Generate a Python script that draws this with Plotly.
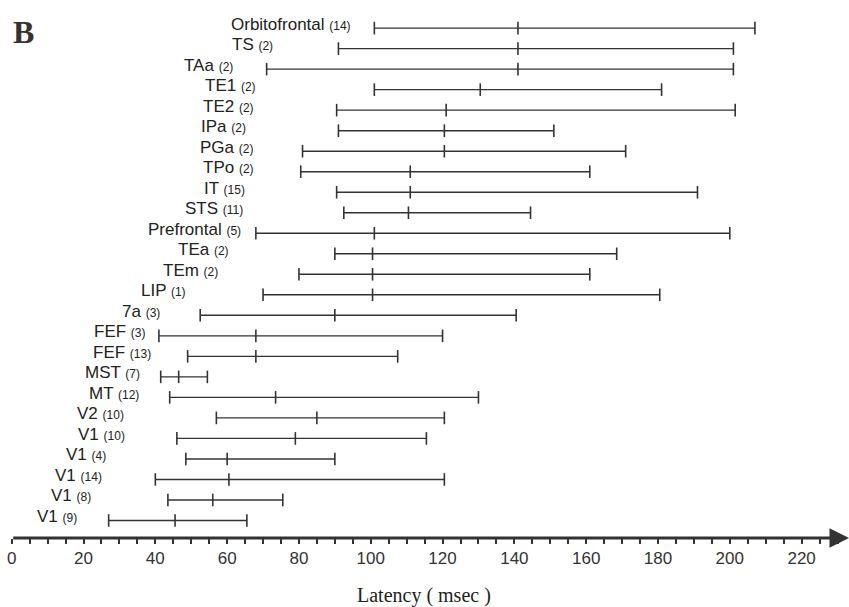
import plotly.graph_objects as go

# ---- data (top row first) ----
areas = ["Orbitofrontal", "TS", "TAa", "TE1", "TE2", "IPa", "PGa", "TPo", "IT", "STS",
         "Prefrontal", "TEa", "TEm", "LIP", "7a", "FEF", "FEF", "MST", "MT", "V2",
         "V1", "V1", "V1", "V1", "V1"]
n_studies = [14, 2, 2, 2, 2, 2, 2, 2, 15, 11, 5, 2, 2, 1, 3, 3, 13, 7, 12, 10, 10, 4, 14, 8, 9]
latency_min = [101, 91, 71, 101, 90.5, 91, 81, 80.5, 90.5, 92.5, 68, 90, 80, 70, 52.5,
               41, 49, 41.5, 44, 57, 46, 48.5, 40, 43.5, 27]
latency_mid = [141, 141, 141, 130.5, 121, 120.5, 120.5, 111, 111, 110.5, 101, 100.5, 100.5,
               100.5, 90, 68, 68, 46.5, 73.5, 85, 79, 60, 60.5, 56, 45.5]
latency_max = [207, 201, 201, 181, 201.5, 151, 171, 161, 191, 144.5, 200, 168.5, 161, 180.5,
               140.5, 120, 107.5, 54.5, 130, 120.5, 115.5, 90, 120.5, 75.5, 65.5]

# ---- layout: right edge of each row label (in msec units) ----
label_right = [95.1, 73.3, 62.2, 68.6, 68.0, 65.8, 67.8, 68.0, 65.5, 65.0, 64.4, 61.1, 58.0,
               49.1, 41.9, 38.0, 39.4, 36.3, 36.0, 31.8, 32.1, 26.8, 25.7, 22.6, 18.8]

cats = [f"{a} ({n})" for a, n in zip(areas, n_studies)]

xs, ys = [], []
for c, lo, mid, hi in zip(cats, latency_min, latency_mid, latency_max):
    xs += [lo, mid, hi, None]
    ys += [c, c, c, None]

LINE = "#333333"
fig = go.Figure()
fig.add_trace(go.Scatter(
    x=xs, y=ys, mode="lines+markers",
    line=dict(color=LINE, width=1.4),
    marker=dict(symbol="line-ns", size=9, line=dict(color=LINE, width=1.6)),
    hoverinfo="skip", showlegend=False, cliponaxis=False,
))

annotations = []
for c, a, n, xr in zip(cats, areas, n_studies, label_right):
    annotations.append(dict(
        x=xr, y=c, xref="x", yref="y", xanchor="right", yanchor="middle",
        text=f"{a} <span style='font-size:12px'>({n})</span>",
        showarrow=False, yshift=4,
        font=dict(family="Liberation Sans, Arial, sans-serif", size=17, color="#222222"),
    ))

# axis arrow
annotations.append(dict(
    x=233.2, y=0, xref="x", yref="y domain",
    ax=0, ay=0, axref="x", ayref="y domain",
    showarrow=True, arrowhead=2, arrowsize=1.3, arrowwidth=3, arrowcolor=LINE, text="",
))
# panel letter
annotations.append(dict(
    x=11 / 849, y=1 - 32 / 538, xref="paper", yref="paper",
    xanchor="left", yanchor="middle", text="<b>B</b>", showarrow=False,
    font=dict(family="Liberation Serif, Times New Roman, serif", size=32, color="#333333"),
))
# axis title
annotations.append(dict(
    x=424 / 849, y=(538 - 595) / 538, xref="paper", yref="paper",
    xanchor="center", yanchor="middle", text="Latency ( msec )", showarrow=False,
    font=dict(family="Liberation Serif, Times New Roman, serif", size=20, color="#222222"),
))

fig.update_layout(
    width=849, height=607, autosize=False,
    margin=dict(l=0, r=0, t=0, b=69),
    paper_bgcolor="white", plot_bgcolor="white",
    annotations=annotations,
    xaxis=dict(
        range=[-3.26, 233.2], tickmode="linear", tick0=0, dtick=20,
        ticks="outside", ticklen=5, tickwidth=1.5, tickcolor=LINE,
        minor=dict(tick0=0, dtick=5, ticks="outside", ticklen=5, tickwidth=1.5, tickcolor=LINE),
        showgrid=False, zeroline=False, showline=False,
        tickfont=dict(family="Liberation Sans, Arial, sans-serif", size=17, color="#333333"),
    ),
    yaxis=dict(
        type="category", categoryorder="array", categoryarray=cats[::-1],
        range=[-0.854, 25.37], showticklabels=False, showgrid=False,
        zeroline=False, showline=False, ticks="",
    ),
)

fig.write_html(
    "out.html",
    config={"displayModeBar": False},
    post_script="document.body.style.margin='0';document.body.style.overflow='hidden';",
)
